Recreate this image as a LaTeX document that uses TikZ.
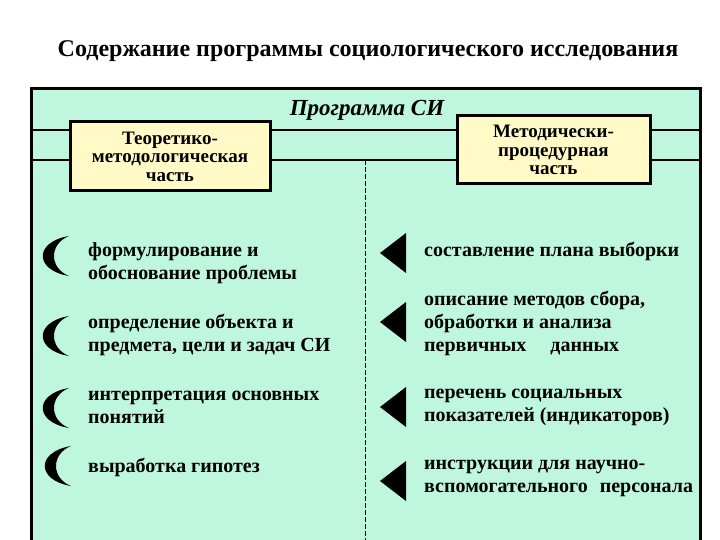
\documentclass[tikz,border=0pt]{standalone}
\usepackage{fontspec}
\setmainfont{Liberation Serif}
\definecolor{mint}{RGB}{190,247,222}
\definecolor{paleyellow}{RGB}{255,250,198}
\tikzset{
  partbox/.style={draw=black, line width=3pt, fill=paleyellow, align=center,
    font=\bfseries\fontsize{19}{18.5}\selectfont, inner sep=0pt},
  item/.style={anchor=west, align=left, inner sep=0pt,
    font=\bfseries\fontsize{20}{23}\selectfont},
  rule/.style={line width=1.6pt},
  crescent/.style={fill=black},
  tri/.style={fill=black}
}
\newcommand{\mycrescent}[2]{%
  \fill[crescent] (#1+29,#2-20) .. controls (#1-6,#2-14) and (#1-6,#2+14) .. (#1+29,#2+20)
     .. controls (#1+9,#2+12) and (#1+9,#2-12) .. (#1+29,#2-20) -- cycle;}
\newcommand{\mytri}[2]{%
  \fill[tri] (#1+26,#2-20) -- (#1+26,#2+20) -- (#1,#2) -- cycle;}
\begin{document}
\begin{tikzpicture}[x=1pt,y=-1pt]
\useasboundingbox (0,0) rectangle (720,540);
\fill[white] (0,0) rectangle (720,540);
% title
\node[font=\bfseries\fontsize{24}{26}\selectfont, inner sep=0pt] (title) at (368,51) {Содержание программы социологического исследования};
% frame
\fill[mint] (31,89) rectangle (700,540);
\draw[line width=3pt] (31,540) -- (31,89) -- (700,89) -- (700,540);
\coordinate (L1) at (31,130);
\coordinate (L2) at (31,160);
\coordinate (R1) at (700,130);
\coordinate (R2) at (700,160);
\draw[rule] (L1) -- (R1);
\draw[rule] (L2) -- (R2);
% heading
\node[font=\bfseries\itshape\fontsize{23}{24}\selectfont, inner sep=0pt] (prog) at (367,110) {Программа СИ};
% dashed divider
\coordinate (dtop) at (365,160);
\coordinate (dbot) at (365,540);
\draw[line width=0.7pt, dash pattern=on 5pt off 2pt] (dtop) -- (dbot);
% boxes
\node[partbox, minimum width=200pt, minimum height=69pt] (theo) at (170,156.5) {Теоретико-\\методологическая\\часть};
\node[partbox, minimum width=193pt, minimum height=68pt] (meth) at (553.5,150) {Методически-\\процедурная\\часть};
% left items
\mycrescent{40}{256}
\mycrescent{40}{336}
\mycrescent{40}{408}
\mycrescent{42}{466}
\node[item] (a1) at (88,263) {формулирование и\\обоснование проблемы};
\node[item] (a2) at (88,335) {определение объекта и\\предмета, цели и задач СИ};
\node[item] (a3) at (88,407) {интерпретация основных\\понятий};
\node[item] (a4) at (88,467) {выработка гипотез};
% right items
\mytri{380}{253}
\mytri{380}{322}
\mytri{380}{407}
\mytri{380}{481}
\node[item] (b1) at (424,251) {составление плана выборки};
\node[item] (b2) at (424,323) {описание методов сбора,\\обработки и анализа\\первичных\hspace{1.2em}данных};
\node[item] (b3) at (424,407) {перечень социальных\\показателей (индикаторов)};
\node[item] (b4) at (424,478.5) {инструкции для научно-\\вспомогательного\hspace{0.6em}персонала};
\end{tikzpicture}
\end{document}
